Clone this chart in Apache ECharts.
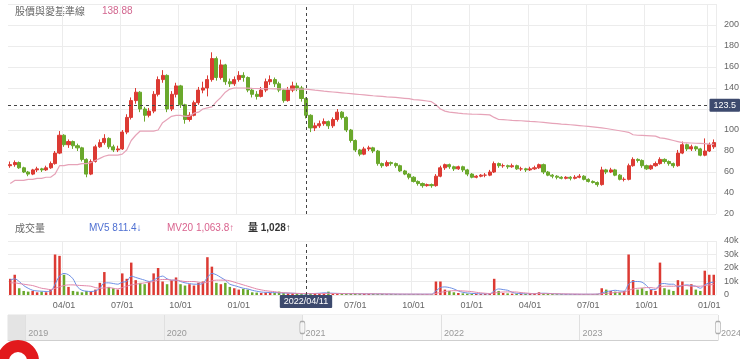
<!DOCTYPE html>
<html><head><meta charset="utf-8">
<script src="https://cdn.jsdelivr.net/npm/echarts@6/dist/echarts.min.js"></script>
<style>html,body{margin:0;padding:0;background:#fff}#c{width:740px;height:359px}</style>
</head><body><div id="c"></div>
<script>
function pad(n){return String(n).padStart(2,'0');}
function fmt(d){return d.getUTCFullYear()+'/'+pad(d.getUTCMonth()+1)+'/'+pad(d.getUTCDate());}
// weekly categories (Mondays) 2021/01/04 .. 2024/01/01
const categories = [];
for (let i = 0; i < 158; i++) categories.push(fmt(new Date(Date.UTC(2021, 0, 4 + 7 * i))));
// slider ticks (half-month) 2018/11/15 .. 2024/01/01
const sliderTicks = ['2018/11/15','2018/12/01','2018/12/15'];
for (let y = 2019; y <= 2023; y++) for (let m = 1; m <= 12; m++) { sliderTicks.push(y+'/'+pad(m)+'/01', y+'/'+pad(m)+'/15'); }
sliderTicks.push('2024/01/01');

const crossIndex = 66;          // 2022/04/11
const crossPrice = 123.5;
const priceTicks = {min:20, max:220, step:20};
const volTicks = {min:0, max:40000, step:10000};

const openP = [66,67,69,64,60,58,62,63,62,64, 68,78,95,86,89,85,83,72,58,70, 84,88,92,84,81,82,98,112,128,136,
 120,114,118,134,148,152,120,134,142,124, 110,114,126,138,140,148,168,150,162,146, 144,148,152,150,138,134,132,138,146,148,
 144,138,128,138,142,140,130,114,102,104, 106,108,104,110,117,112,100,90,81,77, 82,83,80,68,66,69,68,66,61,58,
 55,51,49,47,48,47,56,64,67,65, 63,65,62,58,55,56,57,57,60,68, 66,66,65,66,63,63,62,63,64,67,
 60,57,56,55,54,55,54,55,56,53, 51,50,48,62,60,62,57,53,53,66, 72,71,66,63,66,68,72,70,68,66, 78,86,82,84,82,76,80,84];
const closeP = [67,69,64,60,58,62,63,62,64,68, 78,95,86,89,85,83,72,58,70,84, 88,92,84,81,82,98,112,128,136,120,
 114,118,134,148,152,120,134,142,124,110, 114,126,138,140,148,168,150,162,146,144, 148,152,150,138,134,132,138,146,148,144,
 138,128,138,142,140,130,114,102,104,106, 108,104,110,117,112,100,90,81,77,82, 83,80,68,66,69,68,66,61,58,55,
 51,49,47,48,47,56,64,67,65,63, 65,62,58,55,56,57,57,60,68,66, 66,65,66,63,63,62,63,64,67,60,
 57,56,55,54,55,54,55,56,53,51, 50,48,62,60,62,57,53,53,66,72, 71,66,63,66,68,72,70,68,66,78, 86,82,84,82,76,80,86,88];
const lowP = [64,65,63,59,56,57,60,60,61,63, 67,77,84,83,82,80,70,55,57,69, 83,86,82,79,79,81,96,110,125,117,
 108,112,116,132,145,117,118,131,121,106, 108,113,124,135,132,146,147,148,143,141, 142,146,146,136,131,129,131,136,143,141,
 136,126,127,136,137,127,111,98,99,102, 104,101,102,108,110,98,88,79,75,76, 80,78,66,64,65,66,64,60,57,53,
 50,47,45,46,45,46,55,62,63,61, 62,60,56,54,54,55,55,56,59,64, 64,63,64,62,61,60,61,62,63,58,
 56,54,53,53,53,52,53,54,52,50, 49,46,47,58,59,56,52,51,52,65, 69,64,62,62,65,67,68,66,64,65, 77,80,80,80,75,75,79,82];
const highP = [70,71,70,65,61,63,65,64,66,70, 80,99,96,91,90,87,84,73,72,86, 91,96,93,86,85,100,115,131,140,137,
 122,121,137,151,157,153,137,145,143,125, 117,128,141,146,152,174,170,167,163,149, 151,156,155,151,140,137,141,149,152,150,
 146,139,141,146,145,142,131,115,107,109, 111,109,112,120,118,113,101,91,82,84, 85,84,81,69,71,70,69,67,62,59,
 56,52,50,49,49,58,66,68,68,66, 66,66,63,59,57,58,59,62,70,69, 68,67,68,67,65,64,65,66,68,68,
 61,58,57,56,56,56,57,58,57,54, 52,51,65,63,64,63,58,55,68,74, 73,72,67,67,70,74,73,71,69,81, 89,87,86,85,83,92,88,91];
const baseLine = [49,52,52,52,53,53,54,54,55,55, 58,66,66,67,67,67,68,68,69,71, 73,75,76,76,76,77,81,90,95,99,
 99,99,99,100,107,110,113,114,114,113, 113,116,117,120,121,122,127,131,136,139,
 140,140,140,139.8,139.6,139.5,139.4,139.3,139.3,139.2, 139.1,139.0,139.0,138.95,138.92,138.9,138.88,138.4,137.9,137.5,
 137.0,136.6,136.2,135.8,135.4,135.0,134.6,134.2,133.8,133.4, 133.0,132.6,132.3,132.0,131.6,131.3,131.0,130.6,130.2,129.8,
 129.0,128.6,128.2,127.6,127.0,124,120,118,117,116.5, 116,115.6,115.3,115.1,115,114.8,114.6,114.4,112,110,
 109.8,109.5,109.2,109,108.8,108.5,108.2,108,107.6,107.2, 106.8,106.4,106,105.6,105.3,105,104.6,104.2,103.8,103.4,
 103,102.5,102,101.4,100.7,100,99.3,98.6,97.8,95.5, 95,94.8,94.6,94.4,94.2,92.5,92,91,90,89, 88,87.8,87.6,87.4,87.2,87,86.6,86.3];
const volume = [12000,15000,5000,3000,2500,3000,2000,2500,2000,4000, 30000,29000,15000,6000,3000,2500,2000,3000,2500,4000,
 9000,17000,6000,5000,4000,16000,12000,24000,11000,9000, 8000,10000,16000,20000,10000,8000,11000,13000,8000,7000,
 8000,7000,9000,10000,28000,21000,9000,8000,9000,6000, 5000,4000,4500,4000,2000,1800,1500,1800,1500,1500,
 2500,1500,1200,1500,1200,1500,1028,1500,1200,1000, 1000,2500,1500,1000,900,800,1200,1000,900,800,
 800,900,700,800,600,700,700,600,500,600, 600,700,600,500,600,10000,10000,4000,3000,2000,
 1500,1200,1000,900,800,700,800,900,12000,3000, 1500,1200,1000,900,800,800,900,1000,2000,1200,
 800,700,600,600,500,500,600,500,600,500, 600,800,5000,4000,3000,2500,2000,3000,30000,11000,
 4000,5000,3000,4000,3000,24000,5000,4000,3000,11000, 10000,4000,8000,4000,3000,18000,15000,15000];
const mv5 = [11000,12000,10000,7000,5000,3500,3000,2800,2600,2800, 8000,14000,16000,15000,12000,6000,3500,2800,2600,3000,
 5000,9000,9000,8500,8000,9500,10000,14000,13000,12000, 11000,10000,11000,13000,14000,12000,11000,11000,10000,9000,
 8500,8000,8000,8500,13000,16000,15000,13000,11000,8000, 7000,6000,5000,4500,3500,2800,2200,2000,1800,1800,
 1600,1500,1400,1300,1100,900,811.4,1000,1150,1300, 1600,1500,1300,1200,1100,1000,1000,1000,900,900,
 850,800,800,750,700,700,650,600,600,600, 600,600,600,600,600,3000,5500,6000,5500,4500,
 3000,2000,1500,1200,1000,900,850,850,3000,4500, 4000,3500,2000,1200,1000,900,900,1000,1200,1300,
 1200,1000,800,700,600,600,550,550,550,550, 550,600,1500,2500,3000,3500,3000,2800,8000,10000,
 10000,9500,7000,4000,4000,8000,8500,8000,8000,6000, 7000,7500,7000,6500,5000,7500,9000,9500];
const mv20 = [9000,9000,8500,8000,7500,7000,6000,5000,4500,4000, 5000,6000,7000,7500,7500,7200,7000,6800,6500,5500,
 5000,5200,5500,5000,4500,5500,6500,7500,8000,8500, 9000,9500,10000,11000,11500,11500,11000,11000,10500,10000,
 10000,10000,9500,9000,9500,10500,11000,11000,11000,10500, 9500,8500,7500,6500,5500,4500,3800,3200,2800,2500,
 1900,1700,1500,1300,1200,1100,1063.8,1050,1040,1050, 1100,1100,1100,1050,1000,1000,950,950,900,900,
 900,850,850,800,800,750,700,700,700,650, 650,650,600,600,600,1200,2000,2500,3000,3200,
 3200,3000,2800,2500,2000,1600,1300,1100,1500,2000, 2200,2300,2300,2200,1800,1500,1200,1000,1000,1000,
 1000,950,900,850,800,750,700,650,600,600, 600,650,900,1200,1500,1800,2000,2200,3500,4500,
 5000,5200,5500,5500,5000,6000,6500,6500,6500,6800, 7000,7000,6500,6500,6500,7000,7500,7800];

const UP = '#dc3a33', DOWN = '#6aa82c';
const FONT = '"Liberation Sans","Noto Sans CJK TC",sans-serif';
function quarterLabel(v){
  const p = v.split('/'); const base = Date.UTC(+p[0], +p[1]-1, +p[2]);
  for (let k = 0; k < 7; k++) { const d = new Date(base + k*86400000);
    if (d.getUTCDate() === 1 && d.getUTCMonth() % 3 === 0) return pad(d.getUTCMonth()+1) + '/01'; }
  return null;
}
const qInterval = (i, v) => quarterLabel(v) !== null;
const num = v => v.toLocaleString('en-US', {maximumFractionDigits: 1});

const candles = categories.map((d, i) => [openP[i], closeP[i], lowP[i], highP[i]]);
const dashed = {type: [3, 3], color: '#444', width: 1};
const pointerLabel = {backgroundColor: '#3d4a6e', color: '#fff', fontSize: 9, fontFamily: FONT, padding: [2, 4], borderRadius: 1};

const chart = echarts.init(document.getElementById('c'), null, {renderer: 'canvas'});
chart.setOption({
  animation: false,
  backgroundColor: '#fff',
  textStyle: {fontFamily: FONT},
  grid: [
    {left: 8, right: 24, top: 4, height: 210, outerBoundsMode: 'none'},
    {left: 8, right: 24, top: 241, height: 54, outerBoundsMode: 'none'},
    {left: 8, right: 22, top: 315, height: 25, show: true, borderColor: '#e2e2e2', borderWidth: 1, outerBoundsMode: 'none'}
  ],
  xAxis: [
    {type: 'category', gridIndex: 0, data: categories, boundaryGap: true,
     axisLine: {show: false}, axisTick: {show: false}, axisLabel: {show: false},
     splitLine: {show: true, interval: qInterval, lineStyle: {color: '#ececec'}},
     axisPointer: {show: true, status: 'show', value: crossIndex, type: 'line', lineStyle: dashed, label: {show: false}, triggerTooltip: false}},
    {type: 'category', gridIndex: 1, data: categories, boundaryGap: true,
     axisLine: {show: false}, axisTick: {show: false},
     axisLabel: {interval: qInterval, formatter: v => quarterLabel(v) || '', color: '#666', fontSize: 9, margin: 6},
     splitLine: {show: true, interval: qInterval, lineStyle: {color: '#ececec'}},
     axisPointer: {show: true, status: 'show', value: crossIndex, type: 'line', lineStyle: dashed, triggerTooltip: false,
       label: Object.assign({show: true, margin: 0}, pointerLabel)}},
    {type: 'category', gridIndex: 2, data: sliderTicks, boundaryGap: false, z: 10,
     axisLine: {show: true, lineStyle: {color: '#cfcfcf'}}, axisTick: {show: false},
     axisLabel: {inside: true, interval: (i, v) => v.endsWith('/01/01'), formatter: v => v.slice(0, 4), align: 'left', padding: [0, 0, 0, 3], color: '#999', fontSize: 9, margin: 2},
     splitLine: {show: true, interval: (i, v) => v.endsWith('/01/01'), lineStyle: {color: '#e0e0e0'}}}
  ],
  yAxis: [
    {type: 'value', gridIndex: 0, position: 'right', min: priceTicks.min, max: priceTicks.max, interval: priceTicks.step,
     axisLine: {show: false}, axisTick: {show: false},
     axisLabel: {color: '#666', fontSize: 9, margin: 8, showMaxLabel: false},
     splitLine: {lineStyle: {color: '#ececec'}},
     axisPointer: {show: true, status: 'show', value: crossPrice, type: 'line', lineStyle: dashed, triggerTooltip: false,
       label: Object.assign({show: true, margin: -2, formatter: p => Number(p.value).toFixed(1)}, pointerLabel)}},
    {type: 'value', gridIndex: 1, position: 'right', min: volTicks.min, max: volTicks.max, interval: volTicks.step,
     axisLine: {show: false}, axisTick: {show: false},
     axisLabel: {color: '#666', fontSize: 9, margin: 8, formatter: v => v === 0 ? '0' : (v / 1000) + 'k'},
     splitLine: {lineStyle: {color: '#ececec'}}},
    {type: 'value', gridIndex: 2, min: 0, max: 1, show: false}
  ],
  series: [
    {type: 'candlestick', xAxisIndex: 0, yAxisIndex: 0, data: candles, barWidth: 3.6,
     itemStyle: {color: UP, color0: DOWN, borderColor: UP, borderColor0: DOWN, borderWidth: 1}},
    {type: 'line', xAxisIndex: 0, yAxisIndex: 0, data: baseLine, symbol: 'none',
     lineStyle: {color: '#e6a3b8', width: 1.2}},
    {type: 'bar', xAxisIndex: 1, yAxisIndex: 1, data: volume, barWidth: 2.5,
     itemStyle: {color: p => closeP[p.dataIndex] >= openP[p.dataIndex] ? UP : DOWN}},
    {type: 'line', xAxisIndex: 1, yAxisIndex: 1, data: mv5, symbol: 'none', smooth: 0.3,
     lineStyle: {color: '#6d8fe4', width: 1}},
    {type: 'line', xAxisIndex: 1, yAxisIndex: 1, data: mv20, symbol: 'none', smooth: 0.3,
     lineStyle: {color: '#e288aa', width: 1}},
    {type: 'scatter', xAxisIndex: 2, yAxisIndex: 2, data: [['2021/01/01', 0.5], ['2024/01/01', 0.5]],
     symbol: 'roundRect', symbolSize: [5, 12], z: 12,
     itemStyle: {color: '#f6f6f6', borderColor: '#9a9a9a', borderWidth: 1},
     markArea: {silent: true, z: 1, data: [
       [{xAxis: '2018/11/15', itemStyle: {color: '#e4e4e4'}}, {xAxis: '2019/01/01'}],
       [{xAxis: '2019/01/01', itemStyle: {color: '#efefef'}}, {xAxis: '2021/01/01'}],
       [{xAxis: '2021/01/01', itemStyle: {color: '#fafafa'}}, {xAxis: '2024/01/01'}]
     ]}}
  ],
  graphic: [
    {type: 'text', left: 15, top: 6, style: {text: '股價與愛基準線', fill: '#666', fontSize: 10, fontFamily: '"Noto Sans CJK TC",sans-serif'}},
    {type: 'text', left: 102, top: 6, style: {text: baseLine[crossIndex].toFixed(2), fill: '#d2668f', fontSize: 10, fontFamily: FONT}},
    {type: 'text', left: 15, top: 223, style: {text: '成交量', fill: '#666', fontSize: 10, fontFamily: '"Noto Sans CJK TC",sans-serif'}},
    {type: 'text', left: 89, top: 223, style: {text: 'MV5 ' + num(mv5[crossIndex]) + '↓', fill: '#4f70d2', fontSize: 10, fontFamily: FONT}},
    {type: 'text', left: 167, top: 223, style: {text: 'MV20 ' + num(mv20[crossIndex]) + '↑', fill: '#d9638e', fontSize: 10, fontFamily: FONT}},
    {type: 'text', left: 248, top: 223, style: {text: '量 ' + num(volume[crossIndex]) + '↑', fill: '#333', fontSize: 10, fontWeight: 'bold', fontFamily: FONT}},
    {type: 'ring', shape: {cx: 18, cy: 361, r: 21, r0: 9}, style: {fill: '#e2191c'}, z: 100}
  ]
});
</script></body></html>
